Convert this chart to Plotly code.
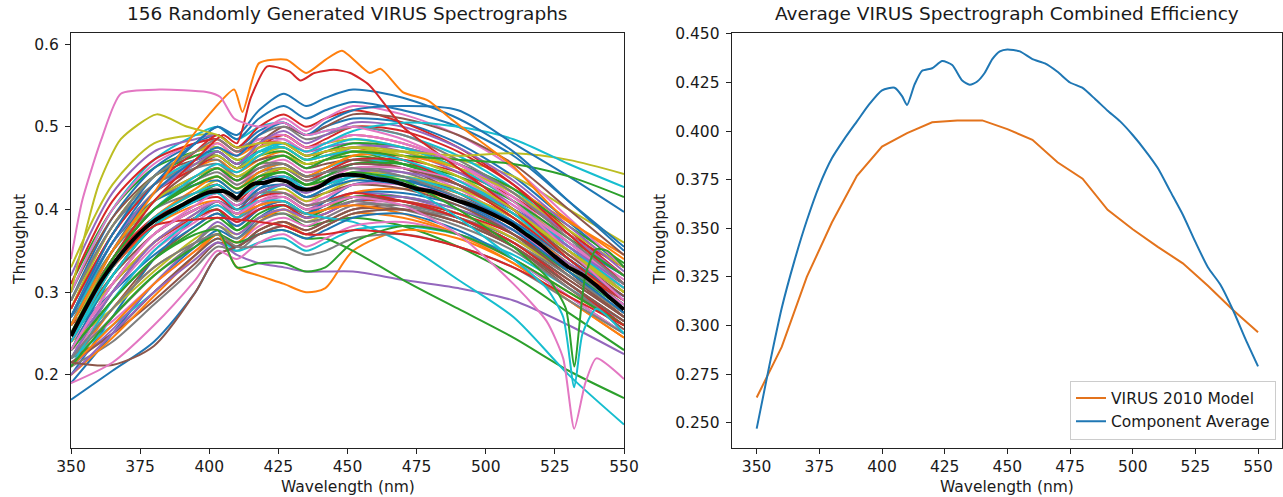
import plotly.graph_objects as go

# ---------------- data ----------------
TAB10 = ['#1f77b4', '#ff7f0e', '#2ca02c', '#d62728', '#9467bd',
         '#8c564b', '#e377c2', '#7f7f7f', '#bcbd22', '#17becf']

# common wavelength grid (nm) for the individual spectrograph curves
GRID = [350, 365, 380, 395, 403, 410, 418, 427, 435, 442, 452, 470, 490, 510, 530, 550]

CURVES = [
    [0.20,0.27,0.34,0.39,0.41,0.40,0.425,0.44,0.43,0.44,0.455,0.45,0.43,0.40,0.355,0.31],
    [0.27,0.36,0.42,0.45,0.46,0.445,0.46,0.47,0.455,0.46,0.47,0.46,0.43,0.39,0.33,0.28],
    [0.31,0.40,0.45,0.47,0.475,0.46,0.47,0.475,0.46,0.465,0.47,0.455,0.43,0.39,0.34,0.29],
    [0.23,0.31,0.37,0.40,0.41,0.39,0.42,0.43,0.415,0.425,0.44,0.435,0.42,0.39,0.345,0.30],
    [0.24,0.32,0.38,0.415,0.43,0.415,0.44,0.45,0.435,0.445,0.46,0.455,0.435,0.40,0.35,0.30],
    [0.22,0.28,0.34,0.38,0.395,0.38,0.40,0.41,0.395,0.40,0.415,0.41,0.39,0.36,0.315,0.27],
    [0.26,0.35,0.41,0.44,0.45,0.43,0.45,0.46,0.445,0.45,0.46,0.45,0.425,0.385,0.33,0.28],
    [0.28,0.37,0.43,0.455,0.46,0.44,0.455,0.455,0.44,0.445,0.45,0.44,0.41,0.37,0.32,0.27],
    [0.33,0.43,0.48,0.49,0.49,0.475,0.485,0.49,0.475,0.48,0.485,0.475,0.45,0.41,0.36,0.31],
    [0.25,0.34,0.40,0.43,0.44,0.425,0.445,0.455,0.44,0.45,0.46,0.455,0.435,0.40,0.35,0.30],
    [0.29,0.39,0.45,0.48,0.49,0.475,0.495,0.505,0.49,0.50,0.51,0.505,0.48,0.44,0.385,0.33],
    [0.21,0.28,0.33,0.36,0.37,0.355,0.375,0.385,0.37,0.38,0.395,0.39,0.37,0.34,0.30,0.26],
    [0.27,0.37,0.43,0.46,0.465,0.45,0.465,0.47,0.455,0.46,0.465,0.455,0.43,0.395,0.35,0.31],
    [0.25,0.33,0.39,0.42,0.43,0.41,0.435,0.45,0.435,0.445,0.46,0.46,0.445,0.415,0.37,0.33],
    [0.23,0.30,0.36,0.39,0.40,0.385,0.405,0.415,0.40,0.41,0.42,0.415,0.395,0.365,0.32,0.275],
    [0.30,0.39,0.44,0.46,0.465,0.45,0.46,0.465,0.45,0.455,0.46,0.45,0.42,0.38,0.325,0.27],
    [0.22,0.29,0.35,0.385,0.40,0.38,0.405,0.42,0.405,0.415,0.43,0.43,0.415,0.385,0.34,0.295],
    [0.26,0.35,0.41,0.435,0.445,0.43,0.445,0.45,0.435,0.44,0.45,0.445,0.42,0.385,0.335,0.285],
    [0.24,0.33,0.39,0.42,0.435,0.42,0.44,0.45,0.44,0.45,0.465,0.47,0.46,0.44,0.40,0.36],
    [0.30,0.40,0.46,0.49,0.50,0.485,0.50,0.505,0.49,0.495,0.50,0.49,0.465,0.425,0.37,0.32],
    [0.19,0.25,0.31,0.355,0.375,0.365,0.39,0.405,0.395,0.41,0.43,0.435,0.425,0.40,0.36,0.32],
    [0.28,0.38,0.44,0.47,0.48,0.465,0.48,0.49,0.475,0.48,0.49,0.48,0.455,0.42,0.37,0.32],
    [0.22,0.30,0.36,0.39,0.40,0.375,0.39,0.395,0.38,0.385,0.39,0.38,0.355,0.32,0.275,0.23],
    [0.27,0.36,0.42,0.45,0.465,0.45,0.475,0.49,0.475,0.485,0.50,0.495,0.47,0.43,0.375,0.32],
    [0.32,0.42,0.47,0.485,0.49,0.475,0.485,0.485,0.47,0.475,0.48,0.47,0.445,0.405,0.355,0.30],
    [0.25,0.32,0.37,0.40,0.41,0.395,0.41,0.415,0.40,0.405,0.415,0.41,0.39,0.355,0.305,0.255],
    [0.28,0.37,0.43,0.46,0.47,0.455,0.475,0.485,0.47,0.48,0.49,0.48,0.455,0.415,0.36,0.305],
    [0.23,0.31,0.37,0.40,0.41,0.39,0.405,0.41,0.395,0.40,0.41,0.40,0.38,0.35,0.305,0.26],
    [0.26,0.34,0.40,0.43,0.44,0.425,0.44,0.445,0.43,0.435,0.445,0.44,0.42,0.39,0.345,0.30],
    [0.21,0.29,0.35,0.39,0.405,0.39,0.415,0.43,0.415,0.425,0.44,0.44,0.42,0.385,0.33,0.28],
    [0.27,0.36,0.41,0.43,0.435,0.42,0.435,0.44,0.425,0.43,0.44,0.435,0.415,0.385,0.34,0.295],
    [0.24,0.33,0.39,0.425,0.44,0.425,0.445,0.455,0.44,0.45,0.465,0.465,0.45,0.425,0.385,0.345],
    [0.29,0.38,0.44,0.465,0.47,0.455,0.47,0.475,0.46,0.47,0.48,0.475,0.455,0.425,0.38,0.335],
    [0.26,0.34,0.39,0.41,0.415,0.40,0.415,0.42,0.405,0.41,0.42,0.41,0.39,0.36,0.31,0.26],
    [0.25,0.34,0.40,0.435,0.45,0.435,0.455,0.465,0.45,0.46,0.475,0.475,0.455,0.42,0.37,0.32],
    [0.215,0.25,0.30,0.345,0.365,0.355,0.375,0.385,0.375,0.385,0.40,0.40,0.385,0.355,0.31,0.265],
    [0.30,0.40,0.455,0.48,0.485,0.47,0.485,0.49,0.475,0.48,0.49,0.48,0.455,0.415,0.36,0.31],
    [0.27,0.35,0.40,0.42,0.425,0.41,0.42,0.42,0.405,0.41,0.415,0.405,0.385,0.355,0.31,0.265],
    [0.28,0.38,0.44,0.47,0.475,0.46,0.475,0.48,0.465,0.47,0.475,0.465,0.44,0.40,0.35,0.30],
    [0.26,0.36,0.42,0.455,0.465,0.45,0.47,0.48,0.465,0.475,0.485,0.475,0.45,0.41,0.355,0.305],
    [0.23,0.32,0.38,0.41,0.42,0.405,0.425,0.43,0.415,0.425,0.435,0.43,0.41,0.375,0.325,0.275],
    [0.25,0.33,0.38,0.405,0.41,0.395,0.405,0.41,0.395,0.40,0.405,0.395,0.37,0.335,0.29,0.245],
    [0.24,0.32,0.38,0.415,0.43,0.415,0.435,0.445,0.43,0.44,0.455,0.455,0.44,0.41,0.365,0.32],
    [0.31,0.41,0.46,0.48,0.485,0.47,0.48,0.48,0.465,0.47,0.475,0.46,0.43,0.39,0.34,0.29],
    [0.22,0.30,0.36,0.395,0.41,0.395,0.42,0.43,0.42,0.43,0.445,0.445,0.43,0.40,0.355,0.31],
    [0.26,0.35,0.41,0.44,0.45,0.435,0.45,0.455,0.44,0.445,0.455,0.45,0.43,0.395,0.345,0.295],
    [0.23,0.31,0.37,0.405,0.42,0.405,0.43,0.44,0.425,0.435,0.45,0.45,0.435,0.405,0.36,0.315],
    [0.29,0.38,0.43,0.45,0.455,0.44,0.45,0.455,0.44,0.445,0.45,0.44,0.415,0.38,0.33,0.28],
    [0.25,0.35,0.42,0.455,0.465,0.45,0.465,0.475,0.46,0.465,0.475,0.47,0.45,0.42,0.375,0.33],
    [0.27,0.37,0.43,0.46,0.47,0.455,0.47,0.475,0.46,0.465,0.47,0.46,0.435,0.395,0.34,0.29],
]

# further curves with explicitly read colours
EXTRA_CURVES = [
    [0.28,0.37,0.43,0.47,0.49,0.475,0.50,0.515,0.50,0.51,0.52,0.505,0.475,0.43,0.37,0.31],
    [0.26,0.35,0.42,0.46,0.48,0.465,0.49,0.51,0.495,0.51,0.525,0.515,0.49,0.45,0.39,0.33],
    [0.27,0.37,0.44,0.48,0.50,0.485,0.51,0.525,0.51,0.52,0.53,0.52,0.50,0.465,0.41,0.355],
    [0.25,0.34,0.41,0.45,0.47,0.455,0.48,0.50,0.49,0.50,0.515,0.51,0.49,0.455,0.40,0.345],
    [0.29,0.38,0.44,0.47,0.485,0.47,0.49,0.50,0.485,0.49,0.50,0.49,0.46,0.42,0.365,0.31],
    [0.27,0.36,0.42,0.455,0.47,0.455,0.48,0.495,0.48,0.49,0.505,0.50,0.475,0.435,0.38,0.325],
    [0.21,0.26,0.31,0.35,0.37,0.33,0.32,0.31,0.30,0.305,0.35,0.375,0.365,0.335,0.29,0.245],
    [0.20,0.25,0.30,0.34,0.36,0.345,0.335,0.33,0.325,0.325,0.325,0.315,0.305,0.29,0.26,0.225],
    [0.21,0.27,0.32,0.355,0.37,0.36,0.37,0.375,0.365,0.365,0.35,0.315,0.28,0.245,0.205,0.172],
    [0.24,0.32,0.38,0.41,0.42,0.40,0.41,0.41,0.395,0.39,0.385,0.36,0.315,0.27,0.20,0.14],
    [0.26,0.35,0.41,0.44,0.45,0.44,0.455,0.465,0.455,0.46,0.47,0.47,0.465,0.468,0.46,0.443],
    [0.25,0.34,0.40,0.44,0.455,0.445,0.465,0.48,0.47,0.48,0.495,0.505,0.50,0.485,0.455,0.427],
    [0.26,0.35,0.42,0.46,0.475,0.465,0.49,0.505,0.49,0.505,0.52,0.525,0.52,0.48,0.44,0.397],
    [0.25,0.34,0.40,0.435,0.45,0.435,0.455,0.465,0.45,0.46,0.47,0.465,0.46,0.455,0.44,0.415],
    [0.27,0.36,0.43,0.48,0.50,0.49,0.52,0.54,0.525,0.535,0.545,0.535,0.51,0.47,0.41,0.35],
    [0.17,0.205,0.24,0.30,0.345,0.355,0.37,0.375,0.365,0.375,0.39,0.395,0.375,0.34,0.295,0.25],
    [0.215,0.212,0.235,0.30,0.345,0.355,0.37,0.38,0.37,0.38,0.395,0.40,0.385,0.355,0.31,0.265],
    [0.19,0.215,0.26,0.315,0.35,0.34,0.36,0.37,0.355,0.365,0.38,0.385,0.37,0.34,0.295,0.25],
    [0.22,0.28,0.33,0.36,0.37,0.355,0.355,0.355,0.345,0.35,0.365,0.37,0.355,0.33,0.29,0.25],
    [0.23,0.29,0.34,0.37,0.375,0.33,0.335,0.335,0.325,0.33,0.36,0.38,0.37,0.34,0.30,0.26],
    [0.24,0.33,0.38,0.388,0.39,0.388,0.385,0.38,0.37,0.37,0.375,0.37,0.355,0.33,0.295,0.26],
]
EXTRA_COLORS = ['#d62728', '#e377c2', '#1f77b4', '#8c564b', '#7f7f7f', '#9467bd',
                '#ff7f0e', '#9467bd', '#2ca02c', '#17becf', '#bcbd22', '#17becf',
                '#1f77b4', '#2ca02c', '#1f77b4', '#1f77b4', '#8c564b', '#e377c2',
                '#7f7f7f', '#2ca02c', '#d62728']

# slow-rising curves of the lower-left part of the bundle
LOW_CURVES = [
    [0.22,0.25,0.29,0.335,0.36,0.355,0.375,0.385,0.375,0.385,0.40,0.405,0.39,0.36,0.315,0.27],
    [0.23,0.265,0.31,0.35,0.37,0.36,0.38,0.39,0.38,0.39,0.405,0.41,0.395,0.365,0.32,0.275],
    [0.21,0.24,0.285,0.33,0.355,0.35,0.37,0.38,0.37,0.38,0.395,0.40,0.39,0.365,0.325,0.285],
    [0.24,0.28,0.325,0.365,0.38,0.37,0.39,0.40,0.385,0.395,0.41,0.41,0.395,0.365,0.32,0.275],
    [0.22,0.26,0.30,0.345,0.365,0.35,0.36,0.365,0.35,0.36,0.375,0.38,0.37,0.345,0.305,0.265],
    [0.25,0.30,0.345,0.38,0.395,0.38,0.40,0.41,0.395,0.405,0.42,0.42,0.405,0.375,0.33,0.285],
    [0.20,0.245,0.295,0.345,0.37,0.36,0.385,0.40,0.39,0.40,0.42,0.425,0.41,0.38,0.335,0.29],
    [0.23,0.29,0.34,0.375,0.39,0.375,0.395,0.405,0.39,0.40,0.415,0.415,0.40,0.37,0.325,0.28],
    [0.26,0.31,0.36,0.39,0.40,0.385,0.40,0.405,0.39,0.395,0.41,0.41,0.395,0.37,0.33,0.29],
    [0.21,0.255,0.31,0.36,0.385,0.37,0.39,0.40,0.39,0.395,0.41,0.415,0.40,0.375,0.335,0.295],
    [0.27,0.33,0.38,0.41,0.42,0.405,0.42,0.43,0.415,0.42,0.43,0.425,0.405,0.37,0.32,0.27],
    [0.24,0.30,0.355,0.39,0.405,0.39,0.41,0.42,0.41,0.415,0.43,0.43,0.41,0.375,0.33,0.285],
    [0.22,0.27,0.32,0.36,0.38,0.365,0.385,0.395,0.385,0.39,0.405,0.405,0.39,0.36,0.32,0.275],
    [0.25,0.31,0.36,0.395,0.41,0.395,0.415,0.425,0.41,0.42,0.435,0.44,0.425,0.395,0.35,0.305],
]

# curves with their own wavelength sampling
TOP_ORANGE_X = [350, 365, 380, 392, 400, 409, 412, 418, 428, 435, 442, 448, 458, 462, 470, 479, 488, 499, 510, 525, 550]
TOP_ORANGE_Y = [0.26, 0.35, 0.42, 0.48, 0.515, 0.545, 0.518, 0.577, 0.581, 0.565, 0.581, 0.592, 0.565, 0.57, 0.542, 0.532, 0.508, 0.48, 0.452, 0.40, 0.34]
TOP_RED_X = [350, 365, 380, 395, 405, 410, 415, 421, 429, 433, 438, 445, 451, 458, 470, 490, 510, 530, 550]
TOP_RED_Y = [0.25, 0.34, 0.41, 0.46, 0.49, 0.48, 0.535, 0.573, 0.567, 0.556, 0.565, 0.569, 0.565, 0.55, 0.50, 0.45, 0.40, 0.34, 0.29]
EARLY_PINK_X = [350, 354, 361, 368, 382, 399, 404, 409, 418, 427, 435, 442, 452, 470, 490, 510, 530, 550]
EARLY_PINK_Y = [0.34, 0.41, 0.485, 0.54, 0.545, 0.542, 0.536, 0.51, 0.50, 0.505, 0.49, 0.495, 0.50, 0.485, 0.455, 0.41, 0.35, 0.29]
EARLY_OLIVE_X = [350, 360, 368, 381, 392, 403, 410, 418, 427, 435, 442, 452, 470, 490, 510, 530, 550]
EARLY_OLIVE_Y = [0.30, 0.43, 0.485, 0.515, 0.50, 0.49, 0.475, 0.48, 0.48, 0.465, 0.47, 0.475, 0.465, 0.44, 0.40, 0.35, 0.30]
DIP_PINK_X = [350, 365, 380, 395, 403, 410, 418, 427, 435, 442, 452, 470, 490, 510, 522, 528, 532, 536, 540, 550]
DIP_PINK_Y = [0.23, 0.31, 0.37, 0.40, 0.41, 0.395, 0.41, 0.415, 0.40, 0.405, 0.415, 0.405, 0.37, 0.31, 0.265, 0.22, 0.135, 0.19, 0.22, 0.195]
DIP_CYAN_X = [350, 365, 380, 395, 403, 410, 418, 427, 435, 442, 452, 470, 490, 510, 522, 528, 532, 535, 540, 550]
DIP_CYAN_Y = [0.24, 0.33, 0.39, 0.42, 0.43, 0.415, 0.43, 0.44, 0.425, 0.43, 0.44, 0.43, 0.39, 0.34, 0.305, 0.27, 0.185, 0.25, 0.28, 0.25]
DIP_GREEN_X = [350, 365, 380, 395, 403, 410, 418, 427, 435, 442, 452, 470, 490, 510, 523, 529, 532, 536, 540, 544, 550]
DIP_GREEN_Y = [0.25, 0.34, 0.40, 0.43, 0.44, 0.425, 0.44, 0.445, 0.43, 0.435, 0.445, 0.435, 0.40, 0.355, 0.315, 0.28, 0.21, 0.32, 0.352, 0.35, 0.33]
SPECIAL = [(TOP_ORANGE_X, TOP_ORANGE_Y), (TOP_RED_X, TOP_RED_Y), (EARLY_PINK_X, EARLY_PINK_Y),
           (EARLY_OLIVE_X, EARLY_OLIVE_Y), (DIP_PINK_X, DIP_PINK_Y), (DIP_CYAN_X, DIP_CYAN_Y),
           (DIP_GREEN_X, DIP_GREEN_Y)]
SPECIAL_COLORS = ['#ff7f0e', '#d62728', '#e377c2', '#bcbd22', '#e377c2', '#17becf', '#2ca02c']

# component average (black on left, blue on right)
AVG_X = [350, 355, 360, 365, 370, 375, 380, 385, 390, 395, 400, 405, 408, 410, 413, 416, 420, 424, 428,
         432, 435, 438, 441, 444, 447, 450, 455, 460, 465, 470, 475, 480, 485, 490, 495, 500, 505,
         510, 515, 520, 525, 530, 535, 540, 545, 550]
AVG_Y = [0.247, 0.279, 0.309, 0.333, 0.354, 0.372, 0.386, 0.396, 0.405, 0.414, 0.421, 0.4223, 0.418,
         0.4134, 0.424, 0.431, 0.4323, 0.436, 0.434, 0.426, 0.4238, 0.4255, 0.430, 0.437, 0.441, 0.442,
         0.441, 0.437, 0.4348, 0.4305, 0.425, 0.4222, 0.4165, 0.4105, 0.405, 0.398, 0.390, 0.381,
         0.369, 0.357, 0.343, 0.330, 0.321, 0.308, 0.293, 0.279]

# VIRUS 2010 model
MODEL_X = [350, 360, 370, 380, 390, 400, 410, 420, 430, 440, 450, 460, 470, 480, 490, 500, 510, 520, 530, 540, 550]
MODEL_Y = [0.263, 0.289, 0.325, 0.353, 0.377, 0.392, 0.399, 0.4045, 0.4055, 0.4055, 0.401, 0.3955,
           0.384, 0.3755, 0.3595, 0.3495, 0.3405, 0.332, 0.3205, 0.308, 0.2965]

X_TICKS = [350, 375, 400, 425, 450, 475, 500, 525, 550]
LEFT_Y_TICKS = [0.2, 0.3, 0.4, 0.5, 0.6]
RIGHT_Y_TICKS = [0.250, 0.275, 0.300, 0.325, 0.350, 0.375, 0.400, 0.425, 0.450]

# ---------------- figure ----------------
W, H = 1283, 497
FONT = "DejaVu Sans"
TXT = "#1a1a1a"
TICK_SIZE = 15.5
TITLE_SIZE = 18.5
fig = go.Figure()


def left_line(xs, ys, col, width=2.0, smooth=0.8):
    fig.add_trace(go.Scatter(x=xs, y=ys, mode="lines", xaxis="x", yaxis="y",
                             line=dict(color=col, width=width, shape="spline", smoothing=smooth),
                             showlegend=False, hoverinfo="skip"))


for i, ys in enumerate(CURVES[:25]):
    left_line(GRID, ys, TAB10[i % 10])
for i, ys in enumerate(LOW_CURVES):
    left_line(GRID, ys, TAB10[(i + 5) % 10])
for i, ys in enumerate(CURVES[25:]):
    left_line(GRID, ys, TAB10[(i + 25) % 10])
for ys, col in zip(EXTRA_CURVES, EXTRA_COLORS):
    left_line(GRID, ys, col)
for (xs, ys), col in zip(SPECIAL, SPECIAL_COLORS):
    left_line(xs, ys, col, smooth=0.6)
left_line(AVG_X, AVG_Y, "black", width=4, smooth=0.6)

fig.add_trace(go.Scatter(x=MODEL_X, y=MODEL_Y, mode="lines", xaxis="x2", yaxis="y2",
                         name="VIRUS 2010 Model", line=dict(color="#e3731c", width=2)))
fig.add_trace(go.Scatter(x=AVG_X, y=AVG_Y, mode="lines", xaxis="x2", yaxis="y2",
                         name="Component Average",
                         line=dict(color="#1f77b4", width=2, shape="spline", smoothing=0.6)))

ydom = [1 - 447.5 / H, 1 - 32.5 / H]
axis_common = dict(showline=True, linecolor="#222", linewidth=1, mirror=True,
                   ticks="outside", ticklen=5, tickwidth=1, tickcolor="#222",
                   showgrid=False, zeroline=False, automargin=False,
                   tickfont=dict(family=FONT, size=TICK_SIZE, color=TXT))

fig.update_layout(
    width=W, height=H, margin=dict(l=0, r=0, t=0, b=0, autoexpand=False),
    paper_bgcolor="white", plot_bgcolor="white",
    xaxis=dict(domain=[71 / W, 624 / W], range=[350, 550], tickvals=X_TICKS, anchor="y", **axis_common),
    yaxis=dict(domain=ydom, range=[0.1122, 0.614], tickvals=LEFT_Y_TICKS, tickformat=".1f",
               anchor="x", ticklabelstandoff=3, **axis_common),
    xaxis2=dict(domain=[731.6 / W, 0.9995], range=[340, 559.7], tickvals=X_TICKS, anchor="y2", **axis_common),
    yaxis2=dict(domain=ydom, range=[0.2373, 0.4507], tickvals=RIGHT_Y_TICKS, tickformat=".3f",
                anchor="x2", ticklabelstandoff=3, **axis_common),
    legend=dict(x=1276 / W, y=1 - 439.5 / H, xanchor="right", yanchor="bottom",
                bgcolor="rgba(255,255,255,0.8)", bordercolor="#cccccc", borderwidth=1,
                font=dict(family=FONT, size=TICK_SIZE, color=TXT), tracegroupgap=0),
    font=dict(family=FONT, color=TXT),
)

annots = [
    dict(text="156 Randomly Generated VIRUS Spectrographs", x=347.5 / W, y=1 - 14 / H, size=TITLE_SIZE),
    dict(text="Average VIRUS Spectrograph Combined Efficiency", x=1007 / W, y=1 - 14 / H, size=TITLE_SIZE),
    dict(text="Wavelength (nm)", x=347.5 / W, y=1 - 487 / H, size=TICK_SIZE),
    dict(text="Wavelength (nm)", x=1007 / W, y=1 - 487 / H, size=TICK_SIZE),
]
for a in annots:
    fig.add_annotation(text=a["text"], x=a["x"], y=a["y"], xref="paper", yref="paper",
                       xanchor="center", yanchor="middle", showarrow=False,
                       font=dict(family=FONT, size=a["size"], color=TXT))
for xc in (20 / W, 660 / W):
    fig.add_annotation(text="Throughput", x=xc, y=1 - 240 / H, xref="paper", yref="paper",
                       xanchor="center", yanchor="middle", showarrow=False, textangle=-90,
                       font=dict(family=FONT, size=TICK_SIZE, color=TXT))

fig.write_html("out.html", config={"displayModeBar": False},
               post_script="document.body.style.margin='0';document.body.style.overflow='hidden';")
